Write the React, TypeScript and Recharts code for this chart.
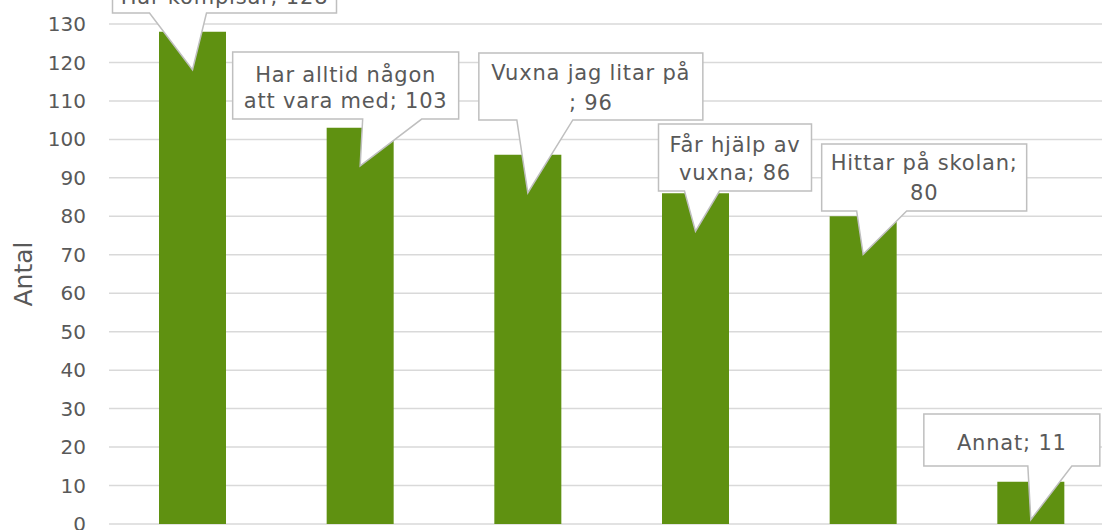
import { BarChart, Bar, YAxis, XAxis, CartesianGrid, LabelList } from "recharts";

const categories = [
  "Har kompisar",
  "Har alltid någon att vara med",
  "Vuxna jag litar på ",
  "Får hjälp av vuxna",
  "Hittar på skolan",
  "Annat",
];
const values = [128, 103, 96, 86, 80, 11];
const yTicks = [0, 10, 20, 30, 40, 50, 60, 70, 80, 90, 100, 110, 120, 130];

// callout text, wrapped the way the original shows it
const calloutLines = [
  ["Har kompisar; 128"],
  ["Har alltid någon", "att vara med; 103"],
  ["Vuxna jag litar på", "; 96"],
  ["Får hjälp av", "vuxna; 86"],
  ["Hittar på skolan;", "80"],
  ["Annat; 11"],
];

// callout box layout relative to bar center / bar top (px)
const calloutBox = [
  { x0: -80, x1: 144, y0: -72, y1: -18.7, p0: -43, p1: 14, ty: [-34.7] },
  { x0: -127.5, x1: 98.5, y0: -75.8, y1: -8.8, p0: 2.5, p1: 61.5, ty: [-52.8, -26.8] },
  { x0: -49, x1: 175, y0: -101.8, y1: -34.8, p0: -11, p1: 45, ty: [-81.8, -51.8] },
  { x0: -37, x1: 116, y0: -69.2, y1: -2.2, p0: -11, p1: 24, ty: [-48.2, -20.2] },
  { x0: -41.5, x1: 163.5, y0: -72.3, y1: -5.3, p0: -6.5, p1: 43.5, ty: [-53.3, -23.3] },
  { x0: -107, x1: 69, y0: -67.7, y1: -15.7, p0: -3, p1: 41, ty: [-38.7] },
];

const data = categories.map((name, i) => ({ name, value: values[i] }));

const FONT = "'DejaVu Sans', sans-serif";
const TEXT = "#595959";

function Callout(props: any) {
  const { x, y, width, index } = props;
  const b = calloutBox[index];
  if (!b) return null;
  const cx = x + width / 2;
  const tipY = y + 38;
  const path = [
    `M${cx + b.x0},${y + b.y0}`,
    `L${cx + b.x1},${y + b.y0}`,
    `L${cx + b.x1},${y + b.y1}`,
    `L${cx + b.p1},${y + b.y1}`,
    `L${cx},${tipY}`,
    `L${cx + b.p0},${y + b.y1}`,
    `L${cx + b.x0},${y + b.y1}`,
    "Z",
  ].join(" ");
  const mid = cx + (b.x0 + b.x1) / 2;
  return (
    <g>
      <path d={path} fill="#ffffff" stroke="#bfbfbf" strokeWidth={1.5} />
      {calloutLines[index].map((line, k) => (
        <text
          key={k}
          x={mid}
          y={y + b.ty[k]}
          textAnchor="middle"
          dominantBaseline="central"
          fontFamily={FONT}
          fontSize={21}
          letterSpacing={0.8}
          fill={TEXT}
        >
          {line}
        </text>
      ))}
    </g>
  );
}

export default function App() {
  return (
    <div
      style={{
        position: "absolute",
        left: 0,
        top: 0,
        width: 1102,
        height: 530,
        overflow: "hidden",
        background: "#ffffff",
      }}
    >
      <BarChart
        width={1115}
        height={530}
        data={data}
        margin={{ top: 24, right: 0, left: 0, bottom: 6 }}
        barSize={67}
      >
        <CartesianGrid vertical={false} stroke="#d9d9d9" strokeWidth={1.5} />
        <XAxis dataKey="name" hide />
        <YAxis
          width={109}
          domain={[0, 130]}
          ticks={yTicks}
          interval={0}
          axisLine={false}
          tickLine={false}
          tickMargin={17}
          tick={{ fontSize: 20, fill: TEXT, fontFamily: FONT }}
          label={{
            value: "Antal",
            angle: -90,
            position: "insideLeft",
            offset: 23,
            style: { fontSize: 25, fill: TEXT, fontFamily: FONT, textAnchor: "middle" },
          }}
        />
        <Bar dataKey="value" fill="#5f9111" isAnimationActive={false}>
          <LabelList dataKey="value" content={<Callout />} />
        </Bar>
      </BarChart>
    </div>
  );
}
